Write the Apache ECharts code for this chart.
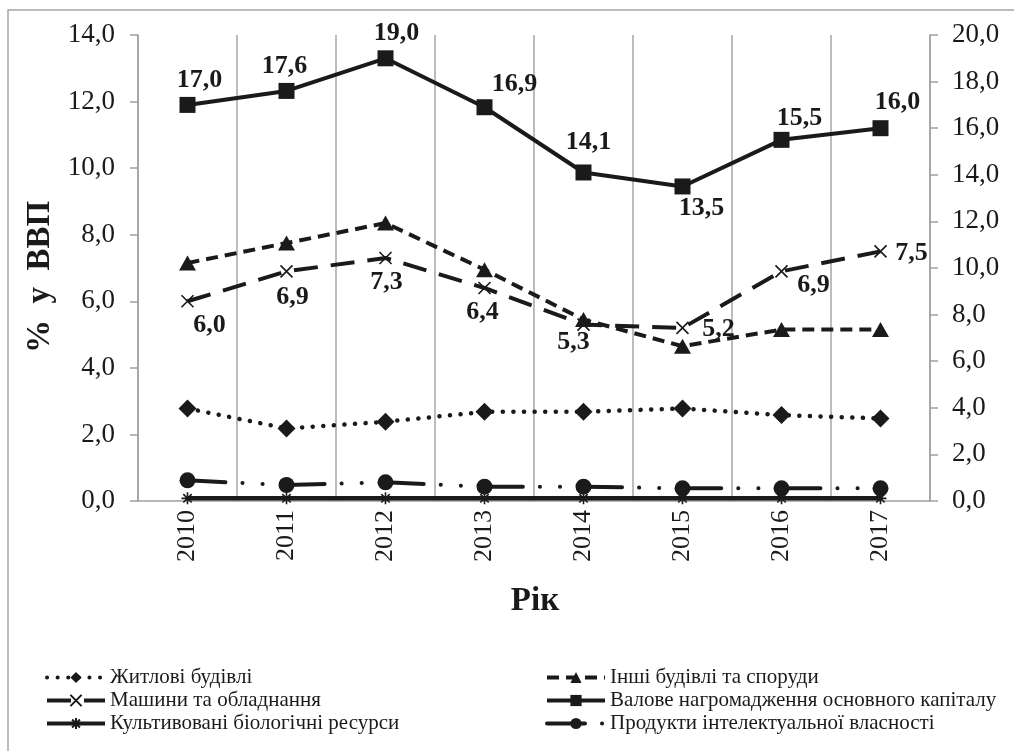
<!DOCTYPE html>
<html>
<head>
<meta charset="utf-8">
<script src="https://cdn.jsdelivr.net/npm/echarts@6/dist/echarts.min.js"></script>
<style>
html,body{margin:0;padding:0;background:#fff;}
#chart{width:1014px;height:751px;}
</style>
</head>
<body>
<div id="chart"></div>
<script>
// ---- data ----
const years = ['2010','2011','2012','2013','2014','2015','2016','2017'];
const residential = [2.78, 2.18, 2.38, 2.68, 2.68, 2.78, 2.58, 2.48];        // Житлові будівлі
const otherBuildings = [7.15, 7.75, 8.35, 6.95, 5.45, 4.65, 5.15, 5.15];     // Інші будівлі та споруди
const machinery = [6.0, 6.9, 7.3, 6.4, 5.3, 5.2, 6.9, 7.5];                  // Машини та обладнання
const gfcf = [17.0, 17.6, 19.0, 16.9, 14.1, 13.5, 15.5, 16.0];               // Валове нагромадження основного капіталу
const cultivated = [0.08, 0.08, 0.08, 0.08, 0.08, 0.08, 0.08, 0.08];         // Культивовані біологічні ресурси
const intellectual = [0.62, 0.48, 0.56, 0.43, 0.43, 0.38, 0.38, 0.38];       // Продукти інтелектуальної власності
const leftTicks = {min: 0, max: 14, interval: 2};
const rightTicks = {min: 0, max: 20, interval: 2};

// label placement (offsets from marker centre), kept separate from data
const gfcfLabelOffsets = [[12,-25],[-2,-25],[11,-25],[30,-23],[5,-30],[19,22],[18,-22],[17,-26]];
const machLabelOffsets = [[22,24],[6,26],[1,24],[-2,24],[-10,18],[36,1],[32,14],[31,2]];

const FONT = 'Liberation Serif';
const fmt = v => (typeof v === 'number' ? v : v.value).toFixed(1).replace('.', ',');

const crossPath = 'path://M0,0L10,10M10,0L0,10';
const starPath = 'path://M0,5L10,5M5,0L5,10M1.5,1.5L8.5,8.5M8.5,1.5L1.5,8.5';

function labelled(values, offsets) {
  return values.map((v, i) => ({
    value: v,
    label: {show: true, position: 'inside', offset: offsets[i]}
  }));
}

const chart = echarts.init(document.getElementById('chart'), null, {renderer: 'canvas'});
const labelStyle = {fontFamily: FONT, fontWeight: 'bold', fontSize: 26, color: '#1a1a1a', formatter: p => fmt(p.value)};
const legendCommon = {
  orient: 'vertical', itemWidth: 58, itemHeight: 14, itemGap: 0,
  textStyle: {fontFamily: FONT, fontSize: 21, color: '#1a1a1a', lineHeight: 23},
  lineStyle: {width: 4}
};

const option = {
  backgroundColor: '#fff',
  animation: false,
  textStyle: {fontFamily: FONT},
  graphic: [
    {type: 'rect', shape: {x: 8, y: 10, width: 1100, height: 800}, style: {fill: 'none', stroke: '#a6a6a6', lineWidth: 1.5}, silent: true, z: -1},
    {type: 'text', x: 535, y: 601, style: {text: 'Рік', font: 'bold 33px "Liberation Serif"', fill: '#1a1a1a', align: 'center', verticalAlign: 'middle'}}
  ],
  grid: {left: 138, right: 84, top: 35, bottom: 250},
  legend: [
    Object.assign({left: 40, top: 661, data: ['Житлові будівлі', 'Машини та обладнання', 'Культивовані біологічні ресурси']}, legendCommon),
    Object.assign({left: 540, top: 661, data: ['Інші будівлі та споруди', 'Валове нагромадження основного капіталу', 'Продукти інтелектуальної власності']}, legendCommon)
  ],
  xAxis: {
    type: 'category', data: years, boundaryGap: true,
    axisLine: {lineStyle: {color: '#a0a0a0', width: 1.5}},
    axisTick: {show: false},
    splitLine: {show: true, lineStyle: {color: '#a6a6a6', width: 1.5}},
    axisLabel: {rotate: 90, margin: 9, fontFamily: FONT, fontSize: 26, color: '#1a1a1a'}
  },
  yAxis: [
    {
      type: 'value', min: leftTicks.min, max: leftTicks.max, interval: leftTicks.interval,
      name: '%  у  ВВП', nameLocation: 'middle', nameRotate: 90, nameGap: 78,
      nameTextStyle: {fontFamily: FONT, fontWeight: 'bold', fontSize: 33, color: '#1a1a1a', padding: [0, 18, 0, 0]},
      axisLine: {show: true, lineStyle: {color: '#a0a0a0', width: 1.5}},
      axisTick: {show: true, length: 8, lineStyle: {color: '#a0a0a0', width: 1.5}},
      splitLine: {show: false},
      axisLabel: {margin: 23, fontFamily: FONT, fontSize: 27, color: '#1a1a1a', formatter: v => fmt(v)}
    },
    {
      type: 'value', min: rightTicks.min, max: rightTicks.max, interval: rightTicks.interval, position: 'right',
      axisLine: {show: true, lineStyle: {color: '#a0a0a0', width: 1.5}},
      axisTick: {show: true, length: 8, lineStyle: {color: '#a0a0a0', width: 1.5}},
      splitLine: {show: false},
      axisLabel: {margin: 22, fontFamily: FONT, fontSize: 27, color: '#1a1a1a', formatter: v => fmt(v)}
    }
  ],
  series: [
    {
      name: 'Житлові будівлі', type: 'line', yAxisIndex: 0, data: residential,
      symbol: 'diamond', symbolSize: 18,
      itemStyle: {color: '#1a1a1a'},
      lineStyle: {color: '#1a1a1a', width: 4.5, type: [0.1, 10.5], cap: 'round'},
      z: 3
    },
    {
      name: 'Інші будівлі та споруди', type: 'line', yAxisIndex: 0, data: otherBuildings,
      symbol: 'triangle', symbolSize: [17, 15],
      itemStyle: {color: '#1a1a1a'},
      lineStyle: {color: '#1a1a1a', width: 4, type: [12, 7]},
      z: 3
    },
    {
      name: 'Машини та обладнання', type: 'line', yAxisIndex: 0, data: labelled(machinery, machLabelOffsets),
      symbol: crossPath, symbolSize: 12,
      itemStyle: {color: 'transparent', borderColor: '#1a1a1a', borderWidth: 1.6},
      lineStyle: {color: '#1a1a1a', width: 4, type: [24, 13]},
      label: labelStyle,
      z: 4
    },
    {
      name: 'Валове нагромадження основного капіталу', type: 'line', yAxisIndex: 1, data: labelled(gfcf, gfcfLabelOffsets),
      symbol: 'rect', symbolSize: 16,
      itemStyle: {color: '#1a1a1a'},
      lineStyle: {color: '#1a1a1a', width: 4, type: 'solid'},
      label: labelStyle,
      z: 5
    },
    {
      name: 'Культивовані біологічні ресурси', type: 'line', yAxisIndex: 0, data: cultivated,
      symbol: starPath, symbolSize: 12,
      itemStyle: {color: 'transparent', borderColor: '#1a1a1a', borderWidth: 1.6},
      lineStyle: {color: '#1a1a1a', width: 4.5, type: 'solid'},
      z: 3
    },
    {
      name: 'Продукти інтелектуальної власності', type: 'line', yAxisIndex: 0, data: intellectual,
      symbol: 'circle', symbolSize: 16,
      itemStyle: {color: '#1a1a1a'},
      lineStyle: {color: '#1a1a1a', width: 4, type: [38, 17, 0.1, 20, 0.1, 24], cap: 'round'},
      z: 3
    }
  ]
};
chart.setOption(option);
</script>
</body>
</html>
